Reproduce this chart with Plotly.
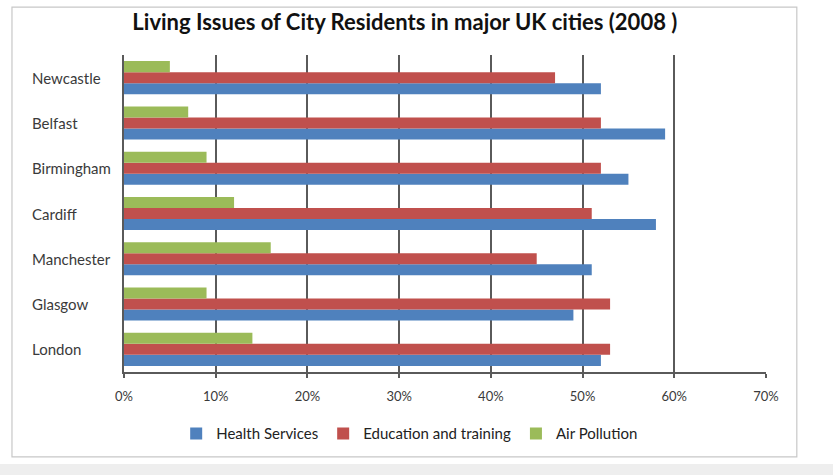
import plotly.graph_objects as go

# Cities listed bottom to top so the first trace sits lowest in each group
cities = ["London", "Glasgow", "Manchester", "Cardiff", "Birmingham", "Belfast", "Newcastle"]
health_services = [52, 49, 51, 58, 55, 59, 52]
education_training = [53, 53, 45, 51, 52, 52, 47]
air_pollution = [14, 9, 16, 12, 9, 7, 5]

x_ticks = [0, 10, 20, 30, 40, 50, 60, 70]
x_tick_labels = [f"{v}%" for v in x_ticks]

title_text = "Living Issues of City Residents in major UK cities (2008 )"

series = [
    ("Health Services", health_services, "#4F81BD"),
    ("Education and training", education_training, "#C0504D"),
    ("Air Pollution", air_pollution, "#9BBB59"),
]

fig = go.Figure()
for name, values, color in series:
    fig.add_trace(go.Bar(
        y=cities, x=values, name=name, orientation="h",
        marker=dict(color=color, line=dict(width=0)),
    ))

# Left-aligned city names
for city in cities:
    fig.add_annotation(
        x=-0.147, xref="paper", y=city, yref="y",
        text=city, showarrow=False, xanchor="left", yanchor="middle",
        font=dict(family="Lato", size=15, color="#3a3a3a"),
    )

# Chart frame and lower page strip
fig.add_shape(type="rect", xref="paper", yref="paper",
              x0=-0.1745, x1=1.048, y0=-0.268, y1=1.151,
              line=dict(color="#c8c8c8", width=1.2), fillcolor="rgba(0,0,0,0)", layer="below")
fig.add_shape(type="rect", xref="paper", yref="paper",
              x0=-0.25, x1=1.2, y0=-0.29, y1=-0.33,
              line=dict(width=0), fillcolor="#eeeeee", layer="below")

fig.update_layout(
    width=833, height=475,
    margin=dict(l=124, r=67, t=55, b=103),
    paper_bgcolor="white", plot_bgcolor="white",
    barmode="group", bargap=0.27, bargroupgap=0,
    title=dict(text=title_text, x=0.486, xanchor="center", y=0.953, yanchor="middle",
               font=dict(family="Lato", size=22, color="#111111", weight="bold")),
    legend=dict(orientation="h", x=0.445, xanchor="center", y=-0.195, yanchor="middle",
                font=dict(family="Lato", size=15, color="#222222"),
                traceorder="normal", itemwidth=30, bgcolor="rgba(0,0,0,0)"),
    showlegend=True,
    font=dict(family="Lato"),
)

fig.update_xaxes(
    range=[0, 70], tickvals=x_ticks, ticktext=x_tick_labels,
    showgrid=True, gridcolor="#5a5a5a", gridwidth=1.5,
    showline=True, linecolor="#5a5a5a", linewidth=1.5,
    ticks="outside", ticklen=4, tickcolor="#5a5a5a", tickwidth=1.5,
    ticklabelstandoff=8,
    tickfont=dict(family="Lato", size=13, color="#3a3a3a"),
    zeroline=False, fixedrange=True,
)
fig.update_yaxes(
    categoryorder="array", categoryarray=cities,
    showticklabels=False, showgrid=False,
    showline=True, linecolor="#5a5a5a", linewidth=1.5,
    ticks="", fixedrange=True,
)

fig.write_html("out.html")
